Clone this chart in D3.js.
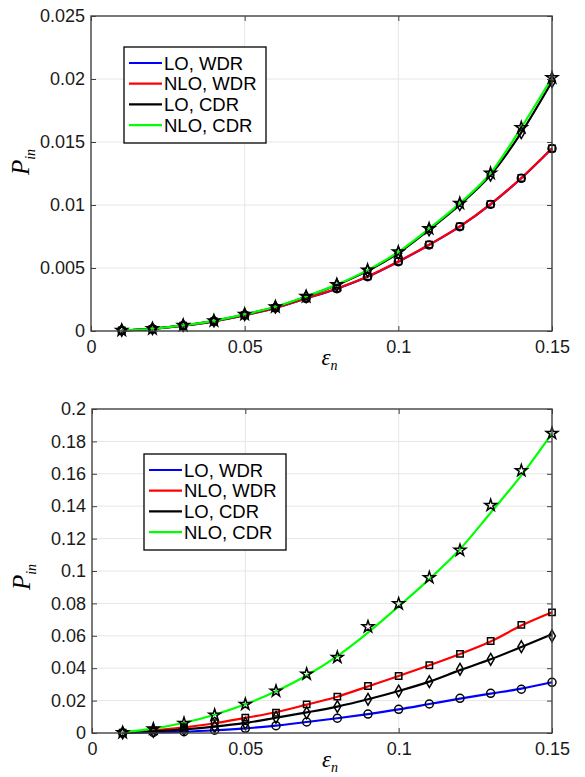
<!DOCTYPE html>
<html lang="en">
<head>
<meta charset="UTF-8"/>
<title>P_in vs epsilon_n</title>
<script src="https://d3js.org/d3.v7.min.js"></script>
<style>
  body { margin: 0; background: #fff; }
  .tick text { font-family: "Liberation Sans", Arial, sans-serif; font-size: 18px; fill: #1a1a1a; }
  .grid line { stroke: #e6e6e6; stroke-width: 1; }
  .frame { fill: none; stroke: #404040; stroke-width: 1.4; }
  .series { fill: none; stroke-width: 2.2; }
  .mark { fill: none; stroke: #000; stroke-width: 1.5; }
  .leg text { font-family: "Liberation Sans", Arial, sans-serif; font-size: 18.5px; fill: #000; }
  .lab { font-family: "Liberation Serif", "Times New Roman", serif; font-style: italic; fill: #000; }
</style>
</head>
<body>
<div id="chart"></div>
<script>
// x values (epsilon_n)
var eps = [0.01, 0.02, 0.03, 0.04, 0.05, 0.06, 0.07, 0.08, 0.09, 0.10, 0.11, 0.12, 0.13, 0.14, 0.15];

var seriesNames = ["LO, WDR", "NLO, WDR", "LO, CDR", "NLO, CDR"];
var seriesColors = ["#0000ff", "#ff0000", "#000000", "#00ff00"];
var seriesMarkers = ["circle", "square", "diamond", "star"];

// top panel
var topLoWdr  = [0.00005, 0.00017, 0.00042, 0.00077, 0.00125, 0.00183, 0.00258, 0.00336, 0.00431, 0.0055, 0.00683, 0.00828, 0.01005, 0.01212, 0.01448];
var topNloWdr = [0.00005, 0.00017, 0.00042, 0.00077, 0.00126, 0.00184, 0.0026, 0.00338, 0.00433, 0.00552, 0.00685, 0.0083, 0.01007, 0.01214, 0.0145];
var topLoCdr  = [0.00005, 0.00018, 0.00044, 0.0008, 0.0013, 0.0019, 0.00272, 0.00365, 0.00477, 0.00618, 0.00803, 0.01003, 0.01238, 0.01574, 0.0198];
var topNloCdr = [0.00005, 0.00018, 0.00045, 0.00081, 0.00132, 0.00192, 0.00274, 0.00368, 0.00483, 0.00627, 0.00812, 0.01013, 0.01252, 0.01614, 0.0201];

// bottom panel (lines)
var botLoWdr  = [0.00005, 0.0003, 0.0008, 0.0017, 0.0029, 0.0045, 0.0068, 0.0091, 0.0117, 0.0146, 0.0179, 0.0212, 0.0243, 0.0274, 0.0313];
var botNloWdr = [0.0002, 0.0015, 0.0035, 0.006, 0.0093, 0.0128, 0.0175, 0.0224, 0.0288, 0.0352, 0.0418, 0.0488, 0.0565, 0.0663, 0.0745];
var botLoCdr  = [0.0001, 0.001, 0.0022, 0.0039, 0.0062, 0.0094, 0.0127, 0.0163, 0.0208, 0.0259, 0.0317, 0.0388, 0.0455, 0.0531, 0.0609];
var botNloCdr = [0.0005, 0.0027, 0.0063, 0.0113, 0.0177, 0.0258, 0.0355, 0.0475, 0.062, 0.0782, 0.095, 0.1135, 0.136, 0.159, 0.185];
// bottom panel (markers)
var botLoWdrPts  = [0.00005, 0.0003, 0.0008, 0.0017, 0.0029, 0.0045, 0.0068, 0.0091, 0.0117, 0.0146, 0.0179, 0.0214, 0.0245, 0.027, 0.0313];
var botNloWdrPts = [0.0002, 0.0015, 0.0035, 0.006, 0.0095, 0.0125, 0.0177, 0.0224, 0.029, 0.0352, 0.0418, 0.0488, 0.0568, 0.0667, 0.0745];
var botLoCdrPts  = [0.0001, 0.001, 0.0022, 0.0039, 0.006, 0.0097, 0.0125, 0.0163, 0.0208, 0.0259, 0.0317, 0.0393, 0.0455, 0.0533, 0.0599];
var botNloCdrPts = [0.0002, 0.0025, 0.006, 0.0111, 0.0177, 0.0259, 0.0364, 0.0467, 0.0656, 0.0798, 0.0959, 0.1128, 0.1405, 0.162, 0.185];

var xTicks = [0, 0.05, 0.1, 0.15];
var topYTicks = [0, 0.005, 0.01, 0.015, 0.02, 0.025];
var botYTicks = [0, 0.02, 0.04, 0.06, 0.08, 0.1, 0.12, 0.14, 0.16, 0.18, 0.2];

var W = 585, H = 777;
var svg = d3.select("#chart").append("svg").attr("width", W).attr("height", H);

var symbolTypes = { circle: d3.symbolCircle, square: d3.symbolSquare, diamond: d3.symbolDiamond, star: d3.symbolStar };
var symbolSizes = { circle: 50, square: 40, diamond: 40, star: 42 };

function panel(cfg) {
  var x = d3.scaleLinear().domain([0, 0.15]).range([cfg.left, cfg.right]);
  var y = d3.scaleLinear().domain([0, cfg.ymax]).range([cfg.bottom, cfg.top]);
  var g = svg.append("g");

  // grid
  g.append("g").attr("class", "grid").selectAll("line").data(xTicks.slice(1, -1)).join("line")
    .attr("x1", function(d) { return x(d); }).attr("x2", function(d) { return x(d); })
    .attr("y1", cfg.top).attr("y2", cfg.bottom);
  g.append("g").attr("class", "grid").selectAll("line").data(cfg.yTicks.slice(1, -1)).join("line")
    .attr("x1", cfg.left).attr("x2", cfg.right)
    .attr("y1", function(d) { return y(d); }).attr("y2", function(d) { return y(d); });

  var line = d3.line().x(function(d, i) { return x(eps[i]); }).y(function(d) { return y(d); })
    .curve(d3.curveMonotoneX);

  cfg.lines.forEach(function(vals, k) {
    g.append("path").datum(vals).attr("class", "series").attr("d", line)
      .style("stroke", seriesColors[k]);
  });
  cfg.points.forEach(function(vals, k) {
    var sym = d3.symbol().type(symbolTypes[seriesMarkers[k]]).size(symbolSizes[seriesMarkers[k]]);
    g.append("g").selectAll("path").data(vals).join("path")
      .attr("class", "mark")
      .attr("transform", function(d, i) { return "translate(" + x(eps[i]) + "," + y(d) + ")"; })
      .attr("d", sym);
  });

  // axes
  var fmt = function(d) { return d === 0 ? "0" : String(+d.toFixed(3)); };
  var xa = g.append("g").attr("transform", "translate(0," + cfg.bottom + ")")
    .call(d3.axisBottom(x).tickValues(xTicks).tickFormat(fmt).tickSizeInner(-5).tickSizeOuter(0).tickPadding(9));
  var ya = g.append("g").attr("transform", "translate(" + cfg.left + ",0)")
    .call(d3.axisLeft(y).tickValues(cfg.yTicks).tickFormat(fmt).tickSizeInner(-5).tickSizeOuter(0).tickPadding(6));
  var xt = g.append("g").attr("transform", "translate(0," + cfg.top + ")")
    .call(d3.axisTop(x).tickValues(xTicks).tickFormat("").tickSizeInner(-5).tickSizeOuter(0));
  var yr = g.append("g").attr("transform", "translate(" + cfg.right + ",0)")
    .call(d3.axisRight(y).tickValues(cfg.yTicks).tickFormat("").tickSizeInner(-5).tickSizeOuter(0));
  [xa, ya, xt, yr].forEach(function(a) {
    a.select(".domain").remove();
    a.selectAll(".tick line").attr("stroke", "#404040").attr("stroke-width", 1);
  });
  g.append("rect").attr("class", "frame")
    .attr("x", cfg.left).attr("y", cfg.top)
    .attr("width", cfg.right - cfg.left).attr("height", cfg.bottom - cfg.top);

  // legend
  var lg = g.append("g").attr("class", "leg");
  lg.append("rect").attr("x", cfg.legX).attr("y", cfg.legY).attr("width", 142).attr("height", 96)
    .attr("fill", "#fff").attr("stroke", "#000").attr("stroke-width", 1.3);
  seriesNames.forEach(function(name, k) {
    var yy = cfg.legY + 16 + k * 20.7;
    lg.append("line").attr("x1", cfg.legX + 5).attr("x2", cfg.legX + 38)
      .attr("y1", yy).attr("y2", yy).attr("stroke", seriesColors[k]).attr("stroke-width", 2.2);
    lg.append("text").attr("x", cfg.legX + 40).attr("y", yy + 6.5).text(name);
  });

  // axis labels
  var yl = g.append("text").attr("class", "lab")
    .attr("transform", "translate(" + cfg.ylabX + "," + cfg.ylabY + ") rotate(-90)")
    .attr("text-anchor", "middle");
  yl.append("tspan").style("font-size", "25px").text("P");
  yl.append("tspan").style("font-size", "14px").attr("dy", 6).text("in");
  var xl = g.append("text").attr("class", "lab")
    .attr("x", (cfg.left + cfg.right) / 2 + 8).attr("y", cfg.bottom + 34)
    .attr("text-anchor", "middle");
  xl.append("tspan").style("font-size", "23px").text("ε");
  xl.append("tspan").style("font-size", "14px").attr("dy", 5).text("n");
}

panel({
  left: 91, right: 552, top: 16, bottom: 331, ymax: 0.025, yTicks: topYTicks,
  lines: [topLoWdr, topNloWdr, topLoCdr, topNloCdr],
  points: [topLoWdr, topNloWdr, topLoCdr, topNloCdr],
  legX: 124, legY: 47, ylabX: 29, ylabY: 162
});
panel({
  left: 92, right: 552, top: 409, bottom: 733, ymax: 0.2, yTicks: botYTicks,
  lines: [botLoWdr, botNloWdr, botLoCdr, botNloCdr],
  points: [botLoWdrPts, botNloWdrPts, botLoCdrPts, botNloCdrPts],
  legX: 144, legY: 454, ylabX: 30, ylabY: 577
});
</script>
</body>
</html>
